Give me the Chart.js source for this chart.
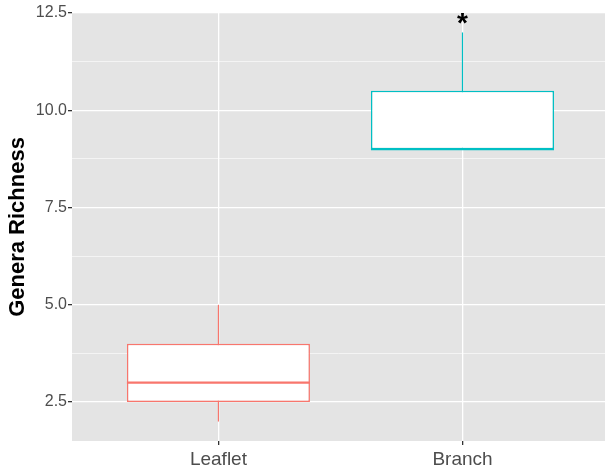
<!DOCTYPE html>
<html>
<head>
<meta charset="utf-8">
<script src="https://cdn.jsdelivr.net/npm/chart.js@4.4.0/dist/chart.umd.min.js"></script>
<style>
  html, body { margin: 0; padding: 0; background: #ffffff; }
  #wrap { width: 605px; height: 469px; position: relative; }
</style>
</head>
<body>
<div id="wrap"><canvas id="box-chart"></canvas></div>
<script>
// data
const categories = ["Leaflet", "Branch"];
const whiskerLow = [2, 9];
const q1 = [2.5, 9];
const median = [3, 9];
const q3 = [4, 10.5];
const whiskerHigh = [5, 12];
const boxColors = ["#F8766D", "#00BFC4"];

const yMajorTicks = [2.5, 5, 7.5, 10, 12.5];
const yTickLabels = ["2.5", "5.0", "7.5", "10.0", "12.5"];
const yMinorTicks = [3.75, 6.25, 8.75, 11.25];

// significance mark above Branch
const marks = [{ category: "Branch", y: 12, text: "*" }];

const BOX_WIDTH = 0.75;
const FONT = '"Liberation Sans", Arial, sans-serif';

const xPos = (i) => i + 1;

// one line dataset per whisker, median
const whiskerSets = categories.map((c, i) => ({
  type: "line",
  data: [
    { x: xPos(i), y: whiskerLow[i] },
    { x: xPos(i), y: whiskerHigh[i] },
  ],
  borderColor: boxColors[i],
  borderWidth: 1.2,
  pointRadius: 0,
  order: 3,
}));

const medianSets = categories.map((c, i) => ({
  type: "line",
  data: [
    { x: xPos(i) - BOX_WIDTH / 2, y: median[i] },
    { x: xPos(i) + BOX_WIDTH / 2, y: median[i] },
  ],
  borderColor: boxColors[i],
  borderWidth: 2.2,
  pointRadius: 0,
  order: 1,
}));

const boxSet = {
  type: "bar",
  data: categories.map((c, i) => ({ x: xPos(i), y: [q1[i], q3[i]] })),
  backgroundColor: "#ffffff",
  borderColor: boxColors,
  borderWidth: 1.5,
  borderSkipped: false,
  barPercentage: BOX_WIDTH,
  categoryPercentage: 1,
  order: 2,
};

// grey panel like ggplot
const panelBg = {
  id: "panelBg",
  beforeDraw(chart) {
    const { ctx, chartArea } = chart;
    ctx.save();
    ctx.fillStyle = "#E4E4E4";
    ctx.fillRect(chartArea.left, chartArea.top, chartArea.right - chartArea.left, chartArea.bottom - chartArea.top);
    ctx.restore();
  },
};

const markText = {
  id: "markText",
  afterDatasetsDraw(chart) {
    const { ctx } = chart;
    ctx.save();
    ctx.fillStyle = "#000000";
    ctx.font = "bold 28px " + FONT;
    ctx.textAlign = "center";
    ctx.textBaseline = "alphabetic";
    marks.forEach((m) => {
      const px = chart.scales.x.getPixelForValue(xPos(categories.indexOf(m.category)));
      const py = chart.scales.y.getPixelForValue(m.y);
      ctx.fillText(m.text, px, py);
    });
    ctx.restore();
  },
};

const isMajor = (v) => yMajorTicks.some((t) => Math.abs(t - v) < 1e-9);

new Chart(document.getElementById("box-chart"), {
  data: {
    datasets: [boxSet, ...whiskerSets, ...medianSets],
  },
  plugins: [panelBg, markText],
  options: {
    responsive: true,
    maintainAspectRatio: false,
    animation: false,
    layout: { padding: { top: 13, right: 0, left: 0, bottom: 0 } },
    plugins: {
      legend: { display: false },
      tooltip: { enabled: false },
    },
    scales: {
      x: {
        type: "linear",
        min: 0.4,
        max: 2.584, // panel is cut off at the right edge of the picture
        offset: false,
        afterBuildTicks: (scale) => {
          scale.ticks = categories.map((c, i) => ({ value: xPos(i) }));
        },
        afterFit: (scale) => {
          scale.height = 28;
        },
        grid: {
          color: "#ffffff",
          lineWidth: 1.3,
          offset: false,
          drawTicks: true,
          tickLength: 4,
          tickColor: "#333333",
        },
        border: { display: false },
        ticks: {
          autoSkip: false,
          maxRotation: 0,
          padding: 3,
          color: "#4D4D4D",
          font: { family: FONT, size: 19 },
          callback: (value) => categories[value - 1],
        },
      },
      y: {
        type: "linear",
        min: 1.5,
        max: 12.5,
        afterBuildTicks: (scale) => {
          scale.ticks = [...yMajorTicks, ...yMinorTicks]
            .sort((a, b) => a - b)
            .map((v) => ({ value: v }));
        },
        afterFit: (scale) => {
          scale.width = 72;
        },
        grid: {
          color: "#ffffff",
          lineWidth: (ctx) => (isMajor(ctx.tick.value) ? 1.3 : 0.6),
          drawTicks: true,
          tickLength: 4,
          tickColor: (ctx) => (isMajor(ctx.tick.value) ? "#333333" : "rgba(0,0,0,0)"),
        },
        border: { display: false },
        ticks: {
          autoSkip: false,
          padding: 1,
          color: "#4D4D4D",
          font: { family: FONT, size: 16 },
          callback: (value) => {
            const k = yMajorTicks.findIndex((t) => Math.abs(t - value) < 1e-9);
            return k >= 0 ? yTickLabels[k] : "";
          },
        },
        title: {
          display: true,
          text: "Genera Richness",
          color: "#000000",
          font: { family: FONT, size: 22, weight: "bold" },
          padding: { top: 5, bottom: 0 },
        },
      },
    },
  },
});
</script>
</body>
</html>
